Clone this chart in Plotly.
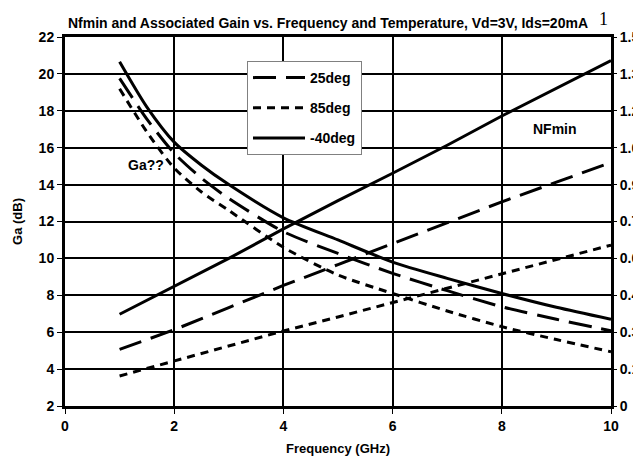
import plotly.graph_objects as go

# Ga curves (left axis, dB)
freq_ga = [1, 1.5, 2, 2.5, 3, 4, 5, 6, 7, 8, 9, 10]
ga_25 = [19.76, 17.55, 15.7, 14.35, 13.25, 11.45, 10.27, 9.19, 8.25, 7.38, 6.7, 6.08]
ga_85 = [19.2, 16.85, 14.9, 13.6, 12.6, 10.6, 9.1, 8.1, 7.15, 6.3, 5.6, 4.94]
ga_m40 = [20.66, 18.2, 16.3, 15.05, 14.0, 12.2, 11.0, 9.8, 8.92, 8.1, 7.35, 6.7]

# NFmin curves (right axis, dB)
freq_nf = [1, 2, 3, 4, 5, 6, 7, 8, 9, 10]
nf_25 = [0.23, 0.31, 0.40, 0.49, 0.575, 0.66, 0.745, 0.83, 0.91, 0.99]
nf_85 = [0.122, 0.184, 0.245, 0.305, 0.362, 0.42, 0.48, 0.538, 0.596, 0.654]
nf_m40 = [0.373, 0.485, 0.60, 0.72, 0.835, 0.946, 1.06, 1.179, 1.29, 1.404]

x_ticks = [0, 2, 4, 6, 8, 10]
ga_ticks = [2, 4, 6, 8, 10, 12, 14, 16, 18, 20, 22]
nf_ticks = [0, 0.15, 0.3, 0.45, 0.6, 0.75, 0.9, 1.05, 1.2, 1.35, 1.5]
nf_labels = ["0", "0.15", "0.3", "0.45", "0.6", "0.75", "0.9", "1.05", "1.2", "1.35", "1.5"]

FONT = "Liberation Sans, Arial, sans-serif"
styles = {"25deg": "23px,10px", "85deg": "8px,6px", "-40deg": "solid"}

fig = go.Figure()

for name, ga in [("25deg", ga_25), ("85deg", ga_85), ("-40deg", ga_m40)]:
    fig.add_trace(go.Scatter(x=freq_ga, y=ga, mode='lines', name=name,
                             legendgroup=name,
                             line=dict(color='black', width=3, dash=styles[name],
                                       shape='spline', smoothing=0.7)))

for name, nf in [("25deg", nf_25), ("85deg", nf_85), ("-40deg", nf_m40)]:
    fig.add_trace(go.Scatter(x=freq_nf, y=nf, mode='lines', name=name, yaxis='y2',
                             legendgroup=name, showlegend=False,
                             line=dict(color='black', width=3, dash=styles[name])))

fig.update_xaxes(range=[0, 10], tickvals=x_ticks, showgrid=True, gridcolor='black', gridwidth=2,
                 showline=True, linecolor='black', linewidth=3, mirror=True, automargin=False,
                 ticks='outside', ticklen=5, tickcolor='black', zeroline=False,
                 title=dict(text="Frequency (GHz)", standoff=12, font=dict(size=13)))
fig.update_yaxes(range=[2, 22], tickvals=ga_ticks, showgrid=True, gridcolor='black', gridwidth=2,
                 showline=True, linecolor='black', linewidth=3, mirror=True, automargin=False,
                 ticks='outside', ticklen=5, tickcolor='black', zeroline=False,
                 title=dict(text="Ga (dB)", standoff=14, font=dict(size=13)))

# page body adds an 8px offset, margins are set so the plot lands at the reference spot
fig.update_layout(
    yaxis2=dict(overlaying='y', side='right', range=[0, 1.5], tickvals=nf_ticks, ticktext=nf_labels,
                showgrid=False, zeroline=False, ticks='outside', ticklen=5, tickcolor='black',
                showline=False, automargin=False),
    width=641, height=457, autosize=False,
    margin=dict(l=57, r=38, t=29, b=59, autoexpand=False),
    paper_bgcolor='white', plot_bgcolor='white',
    font=dict(family=FONT, size=14, color='black', weight='bold'),
    legend=dict(x=(247 - 65) / 546, y=(406 - 61) / 369, xanchor='left', yanchor='top',
                bgcolor='white', bordercolor='gray', borderwidth=1, tracegroupgap=9,
                itemwidth=52, font=dict(size=14)),
)

fig.add_annotation(text="Nfmin and Associated Gain vs. Frequency and Temperature, Vd=3V, Ids=20mA",
                   xref='paper', yref='paper', x=(66 - 65) / 546, y=(406 - 23) / 369,
                   xanchor='left', yanchor='middle', showarrow=False, font=dict(size=14))
fig.add_annotation(text="1", xref='paper', yref='paper', x=(597 - 65) / 546, y=(406 - 19) / 369,
                   xanchor='left', yanchor='middle', showarrow=False,
                   font=dict(family="Liberation Serif, serif", size=18, weight='normal'))
fig.add_annotation(text="Ga??", x=1.48, y=15.06, showarrow=False, font=dict(size=14))
fig.add_annotation(text="NFmin", x=8.97, y=17.0, showarrow=False, font=dict(size=14))

fig.write_html("out.html")
